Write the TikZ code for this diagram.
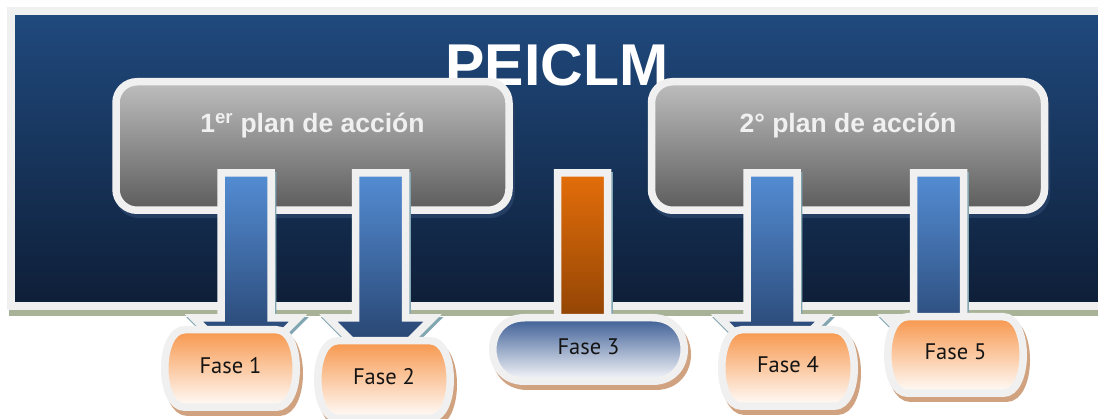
\documentclass[tikz,border=0pt]{standalone}
\usepackage{fontspec}
\setmainfont{Liberation Sans}
\newfontfamily\fasefont{PT Sans}
\usetikzlibrary{calc,shadows}

\definecolor{frametop}{RGB}{32,74,126}
\definecolor{framebottom}{RGB}{14,30,55}
\definecolor{borderwhite}{RGB}{240,240,240}
\definecolor{frameshadow}{RGB}{168,178,150}
\definecolor{plantop}{RGB}{190,190,190}
\definecolor{planbottom}{RGB}{92,92,92}
\definecolor{planshadow}{RGB}{36,62,100}
\definecolor{arrowtop}{RGB}{84,141,212}
\definecolor{arrowbottom}{RGB}{33,58,98}
\definecolor{orangetop}{RGB}{228,110,10}
\definecolor{orangebottom}{RGB}{117,54,3}
\definecolor{arrowshadow}{RGB}{130,165,178}
\definecolor{fasetop}{RGB}{247,150,75}
\definecolor{fasemid}{RGB}{250,200,170}
\definecolor{fasebottom}{RGB}{255,253,251}
\definecolor{faseshadow}{RGB}{208,162,128}
\definecolor{bluefasetop}{RGB}{58,92,148}
\definecolor{bluefasemid}{RGB}{178,184,206}
\definecolor{bluefasebottom}{RGB}{250,250,252}

% phase box outline: style, centre, half width, half height, corner reach
\newcommand{\phasebox}[5]{%
  \path[#1] ($(#2)+(0,-#4)$) -- ($(#2)+(#3-#5,-#4)$)
    .. controls ($(#2)+(#3+#5/3,-#4)$) and ($(#2)+(#3+#5/3,#4)$) .. ($(#2)+(#3-#5,#4)$)
    -- ($(#2)+(-#3+#5,#4)$)
    .. controls ($(#2)+(-#3-#5/3,#4)$) and ($(#2)+(-#3-#5/3,-#4)$) .. ($(#2)+(-#3+#5,-#4)$)
    -- cycle;}

% block arrow hanging from its top point
\newcommand{\phasearrow}[2]{%
  \path[#1] ($(#2)+(-25,0)$) -- ++(0,145) -- ++(-27,0) -- ++(52,52)
    -- ++(52,-52) -- ++(-27,0) -- ++(0,-145) -- cycle;}

\begin{document}
\begin{tikzpicture}[x=1pt,y=-1pt]
  \tikzset{
    frame/.style={
      draw=borderwhite,
      line width=7.5pt,
      top color=frametop,
      bottom color=framebottom,
    },
    titletext/.style={
      text=white,
      inner sep=0pt,
      font=\bfseries\fontsize{59}{62}\selectfont,
    },
    planbox/.style={
      draw=borderwhite,
      line width=7.5pt,
      rounded corners=21pt,
      top color=plantop,
      bottom color=planbottom,
      minimum width=393pt,
      minimum height=128.5pt,
      text=borderwhite,
      font=\bfseries\fontsize{26.5}{30}\selectfont,
      text height=21pt,
      text depth=47pt,
      drop shadow={shadow xshift=2pt, shadow yshift=-4pt,
        fill=planshadow, draw=planshadow, line width=7.5pt, opacity=1},
    },
    bluearrow/.style={
      draw=borderwhite,
      line width=7.5pt,
      top color=arrowtop,
      bottom color=arrowbottom,
      drop shadow={shadow xshift=1.5pt, shadow yshift=-3pt,
        fill=arrowshadow, draw=arrowshadow, line width=7.5pt, opacity=1},
    },
    orangearrow/.style={
      bluearrow,
      top color=orangetop,
      bottom color=orangebottom,
    },
    orangephase/.style={
      draw=borderwhite,
      line width=7.5pt,
      top color=fasetop,
      middle color=fasemid,
      bottom color=fasebottom,
      drop shadow={shadow xshift=3pt, shadow yshift=-5pt,
        fill=faseshadow, draw=faseshadow, line width=7.5pt, opacity=1},
    },
    bluephase/.style={
      orangephase,
      top color=bluefasetop,
      middle color=bluefasemid,
      bottom color=bluefasebottom,
    },
    fasetext/.style={
      inner sep=0pt,
      text=black!92,
      text depth=6pt,
      font=\fasefont\fontsize{22.5}{26}\selectfont,
    },
  }

  \useasboundingbox (0,0) rectangle (1098,419);
  \clip (0,0) rectangle (1098,419);
  \fill[white] (0,0) rectangle (1098,419);

  % Frame
  \fill[frameshadow] (9,20) rectangle (1120,316);
  \path[frame] (10.75,11) rectangle (1120,306);
  \node[titletext] (title) at (557,65) {PEICLM};

  % Action plans
  \node[planbox] (p1) at (312.5,146) {1\textsuperscript{er} plan de acción};
  \node[planbox] (p2) at (848,146) {2° plan de acción};

  % Arrows
  \coordinate (a1) at (246,173);
  \coordinate (a2) at (380.5,173);
  \coordinate (a3) at (582.5,173);
  \coordinate (a4) at (772,173);
  \coordinate (a5) at (938.5,173);
  \phasearrow{bluearrow}{a1}
  \phasearrow{bluearrow}{a2}
  \phasearrow{orangearrow}{a3}
  \phasearrow{bluearrow}{a4}
  \phasearrow{bluearrow}{a5}

  % Phases
  \coordinate (c1) at (230.5,368.5);
  \coordinate (c2) at (384,379.5);
  \coordinate (c3) at (588.5,349.5);
  \coordinate (c4) at (788,368);
  \coordinate (c5) at (955.5,355);
  \phasebox{orangephase}{c1}{65.75}{38.75}{20}
  \phasebox{orangephase}{c2}{66.25}{38.75}{20}
  \phasebox{bluephase}{c3}{95.75}{31.75}{31.75}
  \phasebox{orangephase}{c4}{66.25}{38.25}{20}
  \phasebox{orangephase}{c5}{67.75}{38.25}{20}
  \node[fasetext] (f1) at (c1) {Fase 1};
  \node[fasetext] (f2) at (c2) {Fase 2};
  \node[fasetext] (f3) at (c3) {Fase 3};
  \node[fasetext] (f4) at (c4) {Fase 4};
  \node[fasetext] (f5) at (c5) {Fase 5};
\end{tikzpicture}
\end{document}
